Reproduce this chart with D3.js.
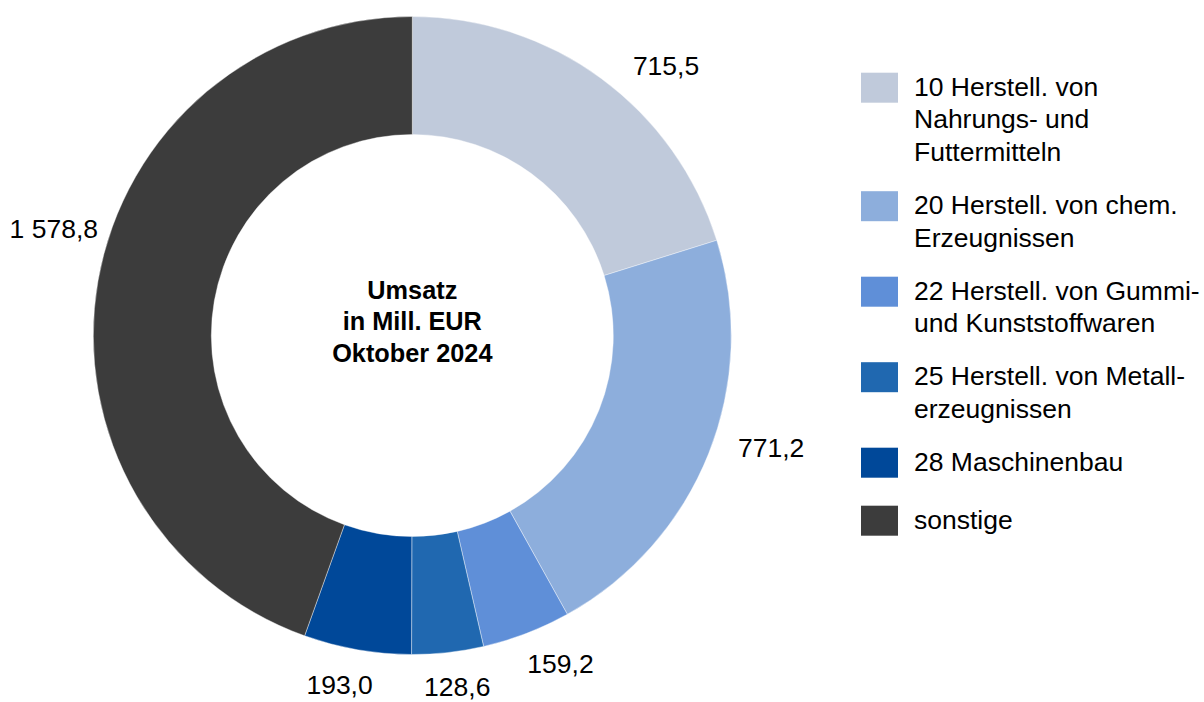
<!DOCTYPE html>
<html>
<head>
  <title>Umsatz Oktober 2024</title>
  <script src="https://d3js.org/d3.v7.min.js"></script>
  <style>
    body { margin: 0; background: #fff; }
    svg text { font-family: Arial, "Liberation Sans", sans-serif; fill: #000; }
    .valueLabel { font-size: 26.5px; }
    .legendText { font-size: 26.5px; }
    .centerText { font-size: 25.3px; font-weight: bold; }
  </style>
</head>
<body>
  <div id="chart"></div>
  <script>

    /* DATA */
    let categories = ["10", "20", "22", "25", "28", "sonstige"];
    let values = [715.5, 771.2, 159.2, 128.6, 193.0, 1578.8];
    let valueLabels = ["715,5", "771,2", "159,2", "128,6", "193,0", "1 578,8"];
    let legendLines = [
      ["10 Herstell. von", "Nahrungs- und", "Futtermitteln"],
      ["20 Herstell. von chem.", "Erzeugnissen"],
      ["22 Herstell. von Gummi-", "und Kunststoffwaren"],
      ["25 Herstell. von Metall-", "erzeugnissen"],
      ["28 Maschinenbau"],
      ["sonstige"]
    ];
    let colors = ["#c0cadb", "#8daedc", "#5f8fd8", "#2068b0", "#004899", "#3c3c3c"];
    let centerLines = ["Umsatz", "in Mill. EUR", "Oktober 2024"];

    let data = categories.map(function(c, i) {
      return {cat: c, value: values[i], label: valueLabels[i], legend: legendLines[i]};
    });

    /* DIMENSIONS */
    let width = 1204, height = 702;
    let cx = 412.3, cy = 335.5;
    let outerR = 319, innerR = 201;

    // hand-tuned label nudges (px) so labels sit like the "best fit" of the source chart
    let labelNudge = {"10": [38, 24], "20": [14, -26], "22": [20, -6],
                      "25": [6, 3], "28": [-12, 2], "sonstige": [18, -42]};

    let svg = d3.select("#chart")
      .append("svg")
      .attr("width", width)
      .attr("height", height);

    let color = d3.scaleOrdinal()
      .domain(categories)
      .range(colors);

    let pie = d3.pie()
      .sort(null)
      .value(function(d) { return d.value; });

    let arc = d3.arc()
      .innerRadius(innerR)
      .outerRadius(outerR);

    let arcs = pie(data);

    let g = svg.append("g")
      .attr("transform", `translate(${cx},${cy})`);

    /* SLICES */
    g.selectAll("path")
      .data(arcs)
      .enter()
      .append("path")
        .attr("d", arc)
        .attr("fill", function(d) { return color(d.data.cat); })
        .attr("stroke", "#ffffff")
        .attr("stroke-opacity", 0.5)
        .attr("stroke-width", 0.8);

    /* VALUE LABELS (outside end, pushed out by text extent) */
    let pad = 18;
    g.selectAll(".valueLabel")
      .data(arcs)
      .enter()
      .append("text")
        .attr("class", "valueLabel")
        .attr("text-anchor", "middle")
        .text(function(d) { return d.data.label; })
        .each(function(d) {
          let a = (d.startAngle + d.endAngle) / 2;
          let w = this.getComputedTextLength();
          let h = 19;
          let ext = Math.abs(Math.sin(a)) * w / 2 + Math.abs(Math.cos(a)) * h / 2;
          let r = outerR + pad + ext;
          let n = labelNudge[d.data.cat];
          d3.select(this)
            .attr("x", Math.sin(a) * r + n[0])
            .attr("y", -Math.cos(a) * r + h / 2 + n[1]);
        });

    /* CENTER TEXT */
    g.selectAll(".centerText")
      .data(centerLines)
      .enter()
      .append("text")
        .attr("class", "centerText")
        .attr("text-anchor", "middle")
        .attr("x", 0)
        .attr("y", function(d, i) { return -37 + i * 31.5; })
        .text(function(d) { return d; });

    /* LEGEND */
    let legendX = 861, legendY = 72.7;
    let lineH = 33, gap = 19.5, minItemH = 58;
    let legend = svg.append("g");
    let y = legendY;

    data.forEach(function(d) {
      let item = legend.append("g")
        .attr("transform", `translate(${legendX},${y})`);

      item.append("rect")
        .attr("width", 37)
        .attr("height", 30)
        .attr("fill", color(d.cat));

      item.selectAll("text")
        .data(d.legend)
        .enter()
        .append("text")
          .attr("class", "legendText")
          .attr("x", 53)
          .attr("y", function(t, i) { return 22.8 + i * lineH; })
          .text(function(t) { return t; });

      y += Math.max(d.legend.length * lineH + gap, minItemH);
    });

  </script>
</body>
</html>
